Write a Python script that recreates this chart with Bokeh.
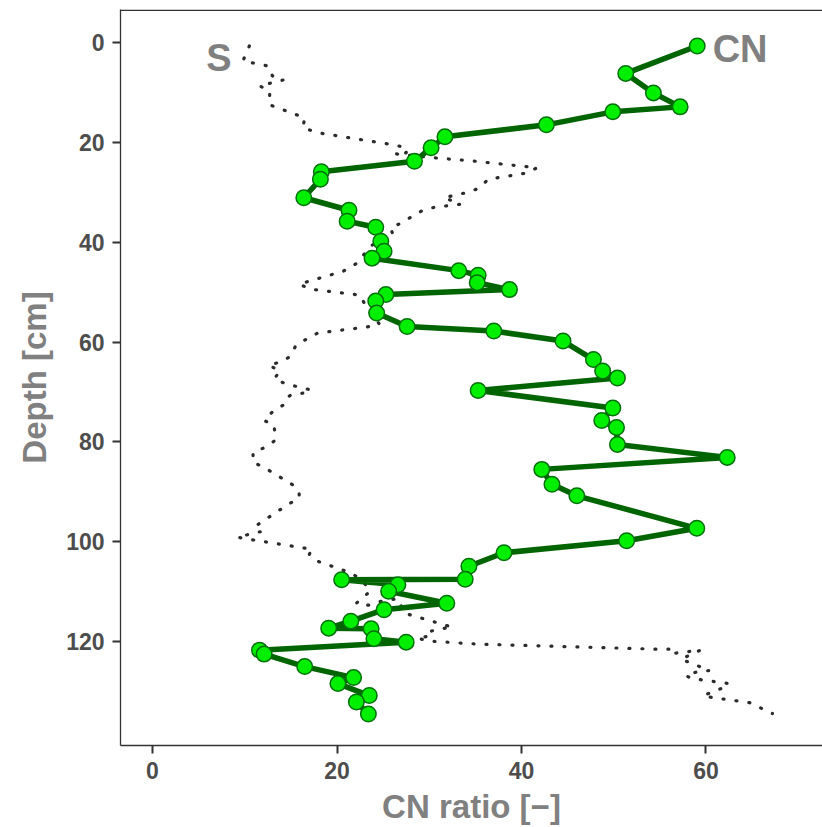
from bokeh.plotting import figure
from bokeh.models import Range1d, FixedTicker, Span
from bokeh.core.properties import value
from bokeh.embed import file_html
from bokeh.resources import INLINE

# CN ratio profile
cn_depth = [0.7, 6.2, 10.1, 12.9, 13.9, 16.5, 18.9, 21.1, 23.8, 25.9, 27.4, 31.1, 33.6, 35.8,
            37.0, 39.8, 41.8, 43.2, 45.7, 46.6, 48.1, 49.5, 50.5, 51.8, 54.2, 56.9, 57.8, 59.8,
            63.5, 65.8, 67.2, 69.7, 73.2, 75.7, 77.1, 80.5, 83.1, 85.5, 88.5, 90.8, 97.3, 99.8,
            102.2, 104.9, 107.5, 107.6, 108.6, 109.9, 112.3, 113.6, 115.9, 117.3, 117.4, 119.4,
            120.1, 121.7, 122.5, 125.0, 127.2, 128.4, 130.8, 132.1, 134.5]
cn_ratio = [59.05, 51.3, 54.3, 57.2, 49.9, 42.7, 31.7, 30.2, 28.4, 18.3, 18.2, 16.4, 21.3, 21.1,
            24.2, 24.75, 25.1, 23.8, 33.2, 35.3, 35.2, 38.7, 25.3, 24.2, 24.3, 27.6, 37.0, 44.5,
            47.8, 48.8, 50.4, 35.3, 49.9, 48.7, 50.3, 50.4, 62.3, 42.2, 43.3, 46.0, 59.0, 51.4,
            38.1, 34.3, 33.9, 20.5, 26.6, 25.6, 31.9, 25.1, 21.5, 19.1, 23.7, 24.0,
            27.5, 11.6, 12.1, 16.5, 21.8, 20.1, 23.5, 22.1, 23.4]

# S profile (scaled to CN axis)
s_depth = [0.7, 3.7, 4.7, 6.7, 7.5, 8.7, 9.7, 12.5, 15.1, 17.1, 18.1, 20.5, 21.1, 22.1, 22.3,
           23.1, 23.7, 25.1, 26.2, 27.4, 29.2, 30.0, 30.6, 31.1, 31.8, 32.4, 33.0, 33.6, 36.2,
           37.2, 38.6, 40.6, 44.4, 45.8, 48.4, 49.4, 50.6, 53.4, 56.4, 57.0, 58.2, 59.4, 60.8,
           62.8, 64.0, 64.6, 65.8, 67.4, 68.4, 69.6, 70.2, 70.6, 71.4, 72.6, 73.8, 75.7, 76.7,
           79.7, 81.1, 82.1, 84.1, 85.1, 88.7, 90.1, 91.3, 92.5, 96.7, 97.9, 98.5, 99.1, 99.5,
           101.1, 101.5, 102.5, 103.7, 106.3, 107.9, 109.9, 112.3, 112.7, 111.8, 111.4, 114.3,
           117.1, 117.5, 118.1, 118.9, 119.3, 119.9, 120.5, 121.5, 121.5, 122.5, 122.3, 121.7,
           123.5, 125.8, 126.0, 126.8, 127.4, 128.4, 129.0, 130.8, 131.2, 132.2, 134.4]
s_value = [10.5, 9.8, 12.5, 13.0, 14.2, 11.6, 12.7, 12.7, 16.5, 16.3, 18.0, 26.1, 27.6, 27.5, 26.3,
           30.5, 34.5, 41.7, 40.4, 36.4, 35.4, 34.2, 32.8, 31.6, 32.6, 33.4, 30.6, 29.3, 26.9,
           25.8, 26.1, 23.8, 22.0, 20.7, 15.9, 17.1, 22.5, 23.3, 24.6, 23.2, 17.9, 16.7, 15.5,
           15.0, 13.9, 12.6, 13.8, 13.2, 14.5, 17.2, 16.4, 15.0, 14.4, 14.2, 13.1, 12.1, 13.2,
           13.3, 12.2, 10.9, 10.9, 12.1, 15.3, 15.9, 15.9, 14.7, 11.3, 11.9, 10.5, 9.2, 10.5,
           15.9, 17.3, 17.0, 17.6, 21.6, 22.8, 23.6, 22.1, 23.4, 25.0, 26.6, 27.3,
           32.5, 31.0, 29.8, 30.0, 28.7, 30.0, 35.4, 54.6, 56.0, 56.0, 56.7, 59.4,
           57.3, 60.4, 59.1, 57.8, 58.5, 62.5, 62.2, 59.7, 60.7, 64.7, 67.2]

x_ticks = [0, 20, 40, 60]
y_ticks = [0, 20, 40, 60, 80, 100, 120]

series_labels = ["S", "CN"]
label_x = [7.2, 63.7]
label_y = [3.1, 1.3]

FONT = "Liberation Sans"

p = figure(width=822, height=827, output_backend="svg", toolbar_location=None,
           x_range=Range1d(-3.47, 72.63), y_range=Range1d(140.8, -6.6),
           min_border_left=120, min_border_right=0, min_border_top=9, min_border_bottom=82)
p.outline_line_color = None
p.xgrid.visible = False
p.ygrid.visible = False
p.background_fill_color = "white"

# S dotted line
p.line(s_value, s_depth, line_color="#2b2b2b", line_width=3.2, line_dash="1 12",
       line_cap="round", line_join="round")

# CN line and points
p.line(cn_ratio, cn_depth, line_color="#006400", line_width=5.5, line_join="round")
p.scatter(cn_ratio, cn_depth, size=15.5, fill_color="#00ee00", line_color="#00700a", line_width=1.5)

p.text(label_x, label_y, text=series_labels, text_font=value(FONT), text_font_style="bold",
       text_font_size="38px", text_color="#808080", text_align="center", text_baseline="middle")

top = Span(location=-6.45, dimension="width", line_color="#333333", line_width=1.3)
p.add_layout(top)

for ax in (p.xaxis[0], p.yaxis[0]):
    ax.axis_line_color = "#333333"
    ax.axis_line_width = 1.3
    ax.major_tick_line_color = "#333333"
    ax.major_tick_line_width = 2
    ax.major_tick_out = 8
    ax.major_tick_in = 0
    ax.minor_tick_line_color = None
    ax.major_label_text_font = FONT
    ax.major_label_text_font_style = "bold"
    ax.major_label_text_font_size = "23px"
    ax.major_label_text_color = "#4d4d4d"
    ax.axis_label_text_font = FONT
    ax.axis_label_text_font_style = "bold"
    ax.axis_label_text_font_size = "33px"
    ax.axis_label_text_color = "#808080"
    ax.major_label_standoff = 8

p.xaxis.ticker = FixedTicker(ticks=x_ticks)
p.yaxis.ticker = FixedTicker(ticks=y_ticks)
p.xaxis.axis_label = "CN ratio [\u2212]"
p.yaxis.axis_label = "Depth [cm]"
p.xaxis.axis_label_standoff = 6
p.yaxis.axis_label_standoff = 10

open("out.html", "w").write(file_html(p, INLINE))
